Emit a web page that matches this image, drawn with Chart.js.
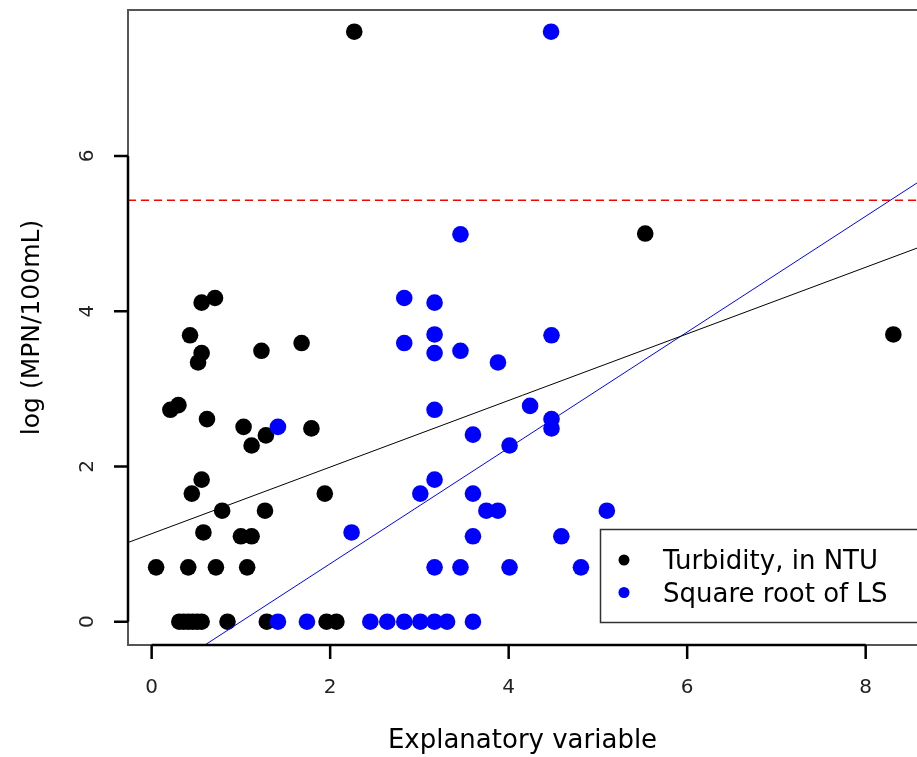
<!DOCTYPE html>
<html>
<head>
<meta charset="utf-8">
<script src="https://cdn.jsdelivr.net/npm/chart.js@4.4.1/dist/chart.umd.min.js"></script>
<style>
  html, body { margin: 0; padding: 0; background: #fff; }
  #wrap { width: 917px; height: 757px; position: relative; }
</style>
</head>
<body>
<div id="wrap"><canvas id="plot"></canvas></div>
<script>
// Turbidity, in NTU (black)
const turbX = [2.27, 5.53, 8.31, 0.56, 0.71, 0.43, 0.56, 0.52, 1.23, 1.68,
               0.21, 0.30, 0.62, 1.03, 1.28, 1.12, 1.79, 0.56, 0.45, 1.94,
               0.79, 1.27, 0.58, 1.00, 1.12, 0.05, 0.41, 0.72, 1.07,
               0.31, 0.36, 0.41, 0.46, 0.51, 0.56, 0.85, 1.29, 1.96, 2.07];
const turbY = [7.60, 5.00, 3.70, 4.11, 4.17, 3.69, 3.46, 3.34, 3.49, 3.59,
               2.73, 2.79, 2.61, 2.51, 2.40, 2.27, 2.49, 1.83, 1.65, 1.65,
               1.43, 1.43, 1.15, 1.10, 1.10, 0.70, 0.70, 0.70, 0.70,
               0, 0, 0, 0, 0, 0, 0, 0, 0, 0];

// Square root of LS (blue)
const lsX = [4.475, 3.46, 2.83, 3.17, 3.17, 4.48, 2.83, 3.17, 3.46, 3.88,
             4.24, 3.17, 4.48, 4.48, 1.415, 3.60, 4.01, 3.17, 3.01, 3.60,
             3.75, 3.88, 5.10, 2.24, 3.60, 4.59, 3.17, 3.46, 4.01, 4.81,
             1.415, 1.74, 2.45, 2.64, 2.83, 3.01, 3.17, 3.31, 3.60];
const lsY = [7.60, 4.99, 4.17, 4.11, 3.70, 3.69, 3.59, 3.46, 3.49, 3.34,
             2.78, 2.73, 2.61, 2.49, 2.51, 2.41, 2.27, 1.83, 1.65, 1.65,
             1.43, 1.43, 1.43, 1.15, 1.10, 1.10, 0.70, 0.70, 0.70, 0.70,
             0, 0, 0, 0, 0, 0, 0, 0, 0];

// fitted lines: [intercept, slope]
const turbFit = [1.134, 0.429];
const lsFit = [-0.745, 0.746];
const threshold = 5.43;

const seriesLabels = ['Turbidity, in NTU', 'Square root of LS'];
const seriesColors = ['#000000', '#0000ff'];
const xTicks = [0, 2, 4, 6, 8];
const yTicks = [0, 2, 4, 6];
const xRange = [-0.265, 8.575];
const yRange = [-0.30, 7.88];

const toPoints = (xs, ys) => xs.map((v, i) => ({ x: v, y: ys[i] }));
const fitLine = (f) => xRange.map(v => ({ x: v, y: f[0] + f[1] * v }));

// box + R style axis segments and tick marks
const frame = {
    id: 'frame',
    afterDatasetsDraw(chart) {
        const { ctx, chartArea: a, scales: { x, y } } = chart;
        const tl = 14;
        ctx.save();
        ctx.strokeStyle = '#555';
        ctx.lineWidth = 2;
        ctx.strokeRect(a.left, a.top, a.right - a.left + 20, a.bottom - a.top);
        ctx.strokeStyle = '#000';
        ctx.lineWidth = 2.5;
        ctx.beginPath();
        ctx.moveTo(x.getPixelForValue(xTicks[0]), a.bottom);
        ctx.lineTo(x.getPixelForValue(xTicks[xTicks.length - 1]), a.bottom);
        ctx.moveTo(a.left, y.getPixelForValue(yTicks[0]));
        ctx.lineTo(a.left, y.getPixelForValue(yTicks[yTicks.length - 1]));
        xTicks.forEach(v => {
            const px = x.getPixelForValue(v);
            ctx.moveTo(px, a.bottom);
            ctx.lineTo(px, a.bottom + tl);
        });
        yTicks.forEach(v => {
            const py = y.getPixelForValue(v);
            ctx.moveTo(a.left, py);
            ctx.lineTo(a.left - tl, py);
        });
        ctx.stroke();
        ctx.restore();
    }
};

// legend box sitting inside the plot, bottom right
const legendBox = {
    id: 'legendBox',
    afterDatasetsDraw(chart) {
        const ctx = chart.ctx;
        ctx.save();
        ctx.fillStyle = '#fff';
        ctx.fillRect(600, 529, 340, 93);
        ctx.strokeStyle = '#333';
        ctx.lineWidth = 1.5;
        ctx.strokeRect(600.5, 529.5, 340, 93);
        ctx.font = '26px "DejaVu Sans"';
        ctx.textBaseline = 'middle';
        ctx.textAlign = 'left';
        seriesLabels.forEach((lab, i) => {
            const yy = 560 + i * 32.5;
            ctx.fillStyle = seriesColors[i];
            ctx.beginPath();
            ctx.arc(624, yy, 5.5, 0, Math.PI * 2);
            ctx.fill();
            ctx.fillStyle = '#000';
            ctx.fillText(lab, 663, yy + 2.5);
        });
        ctx.restore();
    }
};

Chart.defaults.font.family = "'DejaVu Sans', sans-serif";

new Chart(document.getElementById('plot'), {
    type: 'scatter',
    data: {
        datasets: [
            {
                type: 'line',
                data: fitLine(turbFit),
                borderColor: '#000',
                borderWidth: 1,
                pointRadius: 0,
                order: 0
            },
            {
                type: 'line',
                data: fitLine(lsFit),
                borderColor: '#0000ff',
                borderWidth: 1,
                pointRadius: 0,
                order: 0
            },
            {
                type: 'line',
                data: xRange.map(v => ({ x: v, y: threshold })),
                borderColor: '#ff0000',
                borderWidth: 1.6,
                borderDash: [8, 5],
                pointRadius: 0,
                order: 0
            },
            {
                label: seriesLabels[1],
                data: toPoints(lsX, lsY),
                backgroundColor: seriesColors[1],
                borderWidth: 0,
                pointRadius: 8.3,
                order: 1
            },
            {
                label: seriesLabels[0],
                data: toPoints(turbX, turbY),
                backgroundColor: seriesColors[0],
                borderWidth: 0,
                pointRadius: 8.3,
                order: 2
            }
        ]
    },
    options: {
        responsive: true,
        maintainAspectRatio: false,
        animation: false,
        layout: { autoPadding: false, padding: { top: 10, right: 0, left: 0, bottom: 0 } },
        plugins: {
            legend: { display: false },
            tooltip: { enabled: false }
        },
        scales: {
            x: {
                type: 'linear',
                position: 'bottom',
                min: xRange[0],
                max: xRange[1],
                afterBuildTicks: (s) => { s.ticks = xTicks.map(v => ({ value: v })); },
                afterFit: (s) => { s.height = 112; s.paddingLeft = 0; s.paddingRight = 0; },
                grid: { display: false, drawTicks: true, tickLength: 14 },
                border: { display: false },
                ticks: { color: '#222', font: { size: 20 }, padding: 17, maxRotation: 0 },
                title: {
                    display: true,
                    text: 'Explanatory variable',
                    color: '#000',
                    font: { size: 26 },
                    padding: { top: 0, bottom: 0 }
                }
            },
            y: {
                type: 'linear',
                min: yRange[0],
                max: yRange[1],
                afterBuildTicks: (s) => { s.ticks = yTicks.map(v => ({ value: v })); },
                afterFit: (s) => { s.width = 128; s.paddingTop = 0; s.paddingBottom = 0; },
                grid: { display: false, drawTicks: true, tickLength: 14 },
                border: { display: false },
                ticks: { color: '#222', font: { size: 20 }, padding: 20, minRotation: 90, maxRotation: 90, crossAlign: 'center' },
                title: {
                    display: true,
                    text: 'log (MPN/100mL)',
                    color: '#000',
                    font: { size: 25 },
                    padding: { top: 17, bottom: 0 }
                }
            }
        }
    },
    plugins: [frame, legendBox]
});
</script>
</body>
</html>
